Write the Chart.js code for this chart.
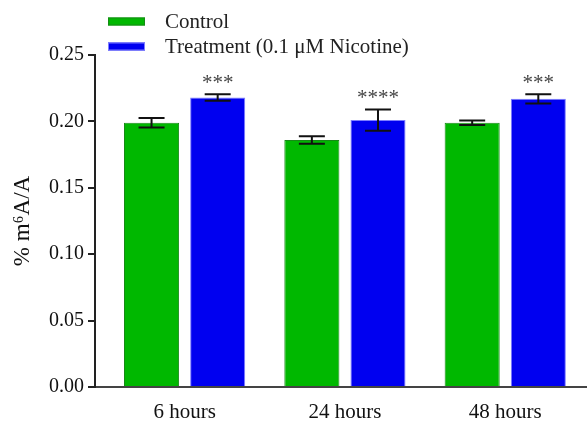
<!DOCTYPE html>
<html>
<head>
<meta charset="utf-8">
<script src="https://cdn.jsdelivr.net/npm/chart.js@4"></script>
<style>
  html, body { margin: 0; padding: 0; background: #fff; }
  #wrap { width: 587px; height: 421px; position: relative; }
</style>
</head>
<body>
<div id="wrap"><canvas id="c" width="587" height="421"></canvas></div>
<script>
const categories = ['6 hours', '24 hours', '48 hours'];
const seriesNames = ['Control', 'Treatment (0.1 \u03bcM Nicotine)'];
const controlValues = [0.199, 0.186, 0.199];
const controlErrors = [0.0035, 0.0028, 0.0017];
const treatmentValues = [0.218, 0.201, 0.217];
const treatmentErrors = [0.0025, 0.008, 0.0035];
const significance = ['***', '****', '***'];
const yTicks = [0, 0.05, 0.10, 0.15, 0.20, 0.25];

const SERIF = '"Liberation Serif", "Times New Roman", serif';
const errors = [controlErrors, treatmentErrors];

const errorBarPlugin = {
  id: 'errorBars',
  afterDatasetsDraw(chart) {
    const ctx = chart.ctx;
    const yScale = chart.scales.y;
    ctx.save();
    ctx.strokeStyle = '#111';
    ctx.lineWidth = 2;
    chart.data.datasets.forEach((ds, di) => {
      const meta = chart.getDatasetMeta(di);
      meta.data.forEach((bar, i) => {
        const v = ds.data[i].y;
        const e = errors[di][i];
        const yTop = yScale.getPixelForValue(v + e);
        const yBot = yScale.getPixelForValue(v - e);
        const x = bar.x;
        const cap = 13;
        ctx.beginPath();
        ctx.moveTo(x, yTop); ctx.lineTo(x, yBot);
        ctx.moveTo(x - cap, yTop); ctx.lineTo(x + cap, yTop);
        ctx.moveTo(x - cap, yBot); ctx.lineTo(x + cap, yBot);
        ctx.stroke();
      });
    });
    const meta = chart.getDatasetMeta(1);
    ctx.fillStyle = '#444';
    ctx.font = '21px ' + SERIF;
    ctx.textAlign = 'center';
    ctx.textBaseline = 'middle';
    meta.data.forEach((bar, i) => {
      const top = yScale.getPixelForValue(treatmentValues[i] + treatmentErrors[i]);
      ctx.fillText(significance[i], bar.x, top - 11);
    });
    ctx.restore();
  },
  afterDraw(chart) {
    const ctx = chart.ctx;
    ctx.save();
    chart.data.datasets.forEach((ds, di) => {
      const y = 21.5 + di * 25;
      ctx.fillStyle = ds.backgroundColor;
      ctx.strokeStyle = ds.borderColor;
      ctx.lineWidth = 1;
      ctx.fillRect(108, y - 4, 37, 8);
      ctx.strokeRect(108.5, y - 3.5, 36, 7);
      ctx.fillStyle = '#222';
      ctx.font = '21px ' + SERIF;
      ctx.textAlign = 'left';
      ctx.textBaseline = 'middle';
      ctx.fillText(ds.label, 165, y + 0.5);
    });
    ctx.restore();
  }
};

new Chart(document.getElementById('c'), {
  type: 'bar',
  plugins: [errorBarPlugin],
  data: {
    datasets: [
      {
        label: seriesNames[0],
        data: categories.map((c, i) => ({ x: i, y: controlValues[i] })),
        backgroundColor: '#00b800',
        borderColor: '#168a16',
        borderWidth: 1
      },
      {
        label: seriesNames[1],
        data: categories.map((c, i) => ({ x: i, y: treatmentValues[i] })),
        backgroundColor: '#0000f0',
        borderColor: '#7d7dff',
        borderWidth: 1
      }
    ]
  },
  options: {
    responsive: false,
    animation: false,
    devicePixelRatio: 1,
    layout: { padding: { top: 55, right: 0, bottom: 0, left: 0 } },
    categoryPercentage: 0.825,
    barPercentage: 0.833,
    plugins: {
      legend: { display: false },
      tooltip: { enabled: false }
    },
    scales: {
      x: {
        type: 'linear',
        offset: false,
        min: -0.559,
        max: 2.51,
        afterBuildTicks: (s) => { s.ticks = categories.map((c, i) => ({ value: i })); },
        afterFit: (s) => { s.height = 34; },
        grid: { display: false, drawTicks: false, offset: false },
        border: { display: true, color: '#444', width: 2 },
        ticks: {
          padding: 13,
          color: '#111',
          font: { family: SERIF, size: 21 },
          maxRotation: 0,
          autoSkip: false,
          callback: (v) => categories[v]
        }
      },
      y: {
        min: 0,
        max: 0.25,
        afterBuildTicks: (s) => { s.ticks = yTicks.map(v => ({ value: v })); },
        afterFit: (s) => { s.width = 95; },
        grid: { drawOnChartArea: false, drawTicks: true, tickLength: 7, color: '#222', lineWidth: 2 },
        border: { display: true, color: '#222', width: 2 },
        ticks: {
          padding: 4,
          color: '#111',
          font: { family: SERIF, size: 20 },
          callback: (v) => v.toFixed(2)
        },
        title: {
          display: true,
          text: '% m\u2076A/A',
          color: '#111',
          font: { family: SERIF, size: 23 },
          padding: { top: 9, bottom: 0 }
        }
      }
    }
  }
});
</script>
</body>
</html>
